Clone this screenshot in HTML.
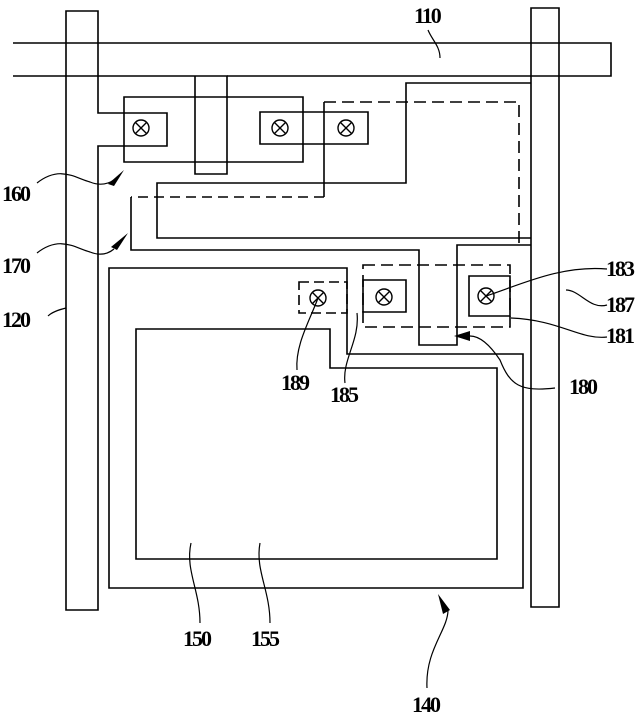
<!DOCTYPE html>
<html><head><meta charset="utf-8"><style>
html,body{margin:0;padding:0;background:#fff;}
svg{display:block;}
text{font-family:"Liberation Serif",serif;font-size:22px;font-weight:bold;letter-spacing:-2px;fill:#000;}
</style></head><body>
<svg width="638" height="724" viewBox="0 0 638 724" xmlns="http://www.w3.org/2000/svg">
<g fill="none" stroke="#000" stroke-width="1.6">
<path d="M66,610 V11 H98 V113 H167 V146 H98 V610 Z"/>
<path d="M531,607 V8 H559 V607 Z"/>
<path d="M13,43 H611 V76 H530 M227,76 V174 H195 V76 H13 Z"/>
<path d="M227,76 H530"/>
<path d="M124,97 H303 V162 H124 Z"/>
<path d="M260,112 H368 V144 H260 Z"/>
<path d="M531,83 H406 V183 H157 V238 H531"/>
<path d="M324,102 V197"/>
<path d="M324,197 H131" stroke-dasharray="10,6"/>
<path d="M131,197 V250 H419 V345 H457 V245 H531"/>
<path d="M324,102 H519 V245" stroke-dasharray="12,6"/>
<path d="M109,268 H347 V354 H523 V588 H109 Z"/>
<path d="M136,329 H330 V368 H497 V559 H136 Z"/>
<path d="M299,282 H347 V313 H299 Z" stroke-dasharray="10,5"/>
<path d="M363,280 H406 V312 H363 Z"/>
<path d="M363,265 H510 V327 H363 Z" stroke-dasharray="12,6"/>
<path d="M469,276 H510 V316 H469 Z"/>
</g>
<g fill="none" stroke="#000" stroke-width="1.4">
<g transform="translate(141,128)"><circle r="8"/><path d="M-5.5,-5.5 L5.5,5.5 M5.5,-5.5 L-5.5,5.5"/></g>
<g transform="translate(280,128)"><circle r="8"/><path d="M-5.5,-5.5 L5.5,5.5 M5.5,-5.5 L-5.5,5.5"/></g>
<g transform="translate(346,128)"><circle r="8"/><path d="M-5.5,-5.5 L5.5,5.5 M5.5,-5.5 L-5.5,5.5"/></g>
<g transform="translate(318,298)"><circle r="8"/><path d="M-5.5,-5.5 L5.5,5.5 M5.5,-5.5 L-5.5,5.5"/></g>
<g transform="translate(384,297)"><circle r="8"/><path d="M-5.5,-5.5 L5.5,5.5 M5.5,-5.5 L-5.5,5.5"/></g>
<g transform="translate(486,296)"><circle r="8"/><path d="M-5.5,-5.5 L5.5,5.5 M5.5,-5.5 L-5.5,5.5"/></g>
</g>
<g fill="none" stroke="#000" stroke-width="1.2">
<path d="M428,30 C432,40 440,46 440,58"/>
<path d="M37,183 C60,165 75,178 90,182 C100,186 108,184 114,180"/>
<path d="M37,253 C60,235 75,248 90,252 C100,256 108,254 114,249"/>
<path d="M66,308 C58,310 52,312 48,316"/>
<path d="M607,269 C560,265 520,285 486,296"/>
<path d="M607,305 C590,310 580,290 566,290"/>
<path d="M607,337 C580,340 560,320 511,318"/>
<path d="M555,388 C520,392 510,385 500,360 C490,345 480,336 470,336"/>
<path d="M318,298 C310,320 295,345 297,370"/>
<path d="M357,313 C360,340 342,360 345,383"/>
<path d="M191,543 C185,570 200,590 200,623"/>
<path d="M260,543 C255,570 270,590 270,623"/>
<path d="M448,610 C448,630 425,650 427,688"/>
</g>
<g fill="#000">
<path d="M124,170 L108,184 L114,186 Z"/>
<path d="M128,233 L111,247 L117,250 Z"/>
<path d="M454,336 L470,331 L470,341 Z"/>
<path d="M438,594 L443,614 L450,610 Z"/>
</g>
<text x="414" y="23">110</text>
<text x="2" y="201">160</text>
<text x="2" y="273">170</text>
<text x="2" y="327">120</text>
<text x="606" y="276">183</text>
<text x="606" y="312">187</text>
<text x="606" y="343">181</text>
<text x="569" y="394">180</text>
<text x="281" y="390">189</text>
<text x="330" y="402">185</text>
<text x="183" y="646">150</text>
<text x="251" y="646">155</text>
<text x="412" y="712">140</text>
</svg>
</body></html>
